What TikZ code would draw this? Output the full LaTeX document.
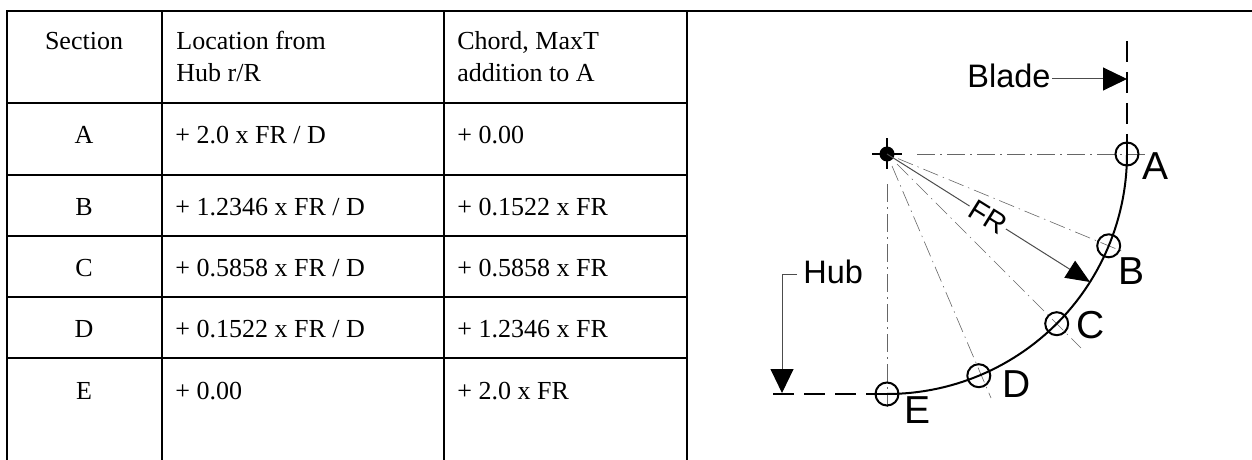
\documentclass[tikz,border=0pt]{standalone}
\usepackage{fontspec}
\setmainfont{Liberation Serif}
\newfontfamily\hlv{Liberation Sans}
\usetikzlibrary{arrows.meta}
\tikzset{
  x=0.5pt,y=-0.5pt,
  rule/.style={line width=1.15pt,line cap=rect},
  cell/.style={anchor=base west,inner sep=0pt,font=\fontsize{13}{16}\selectfont},
  cellc/.style={anchor=base,inner sep=0pt,font=\fontsize{13}{16}\selectfont},
  lab/.style={anchor=base west,inner sep=0pt,font=\hlv\fontsize{16.25}{18}\selectfont},
  biglab/.style={anchor=base west,inner sep=0pt,font=\hlv\fontsize{19.5}{22}\selectfont},
  thick line/.style={line width=1pt,black},
  dashline/.style={line width=1pt,black,dash pattern=on 10.5pt off 5pt},
  centre/.style={line width=0.4pt,black!60,dash pattern=on 9pt off 2.5pt on 1pt off 2.5pt},
  radial/.style={line width=0.3pt,black!60,dash pattern=on 8pt off 2.5pt on .7pt off 2.5pt},
  leader/.style={line width=0.5pt,black!70},
  bigtip/.style={-{Triangle[length=12pt,width=11.5pt,black]}},
  ring/.style={circle,draw=black,line width=1pt,minimum size=11.5pt,inner sep=0pt,fill=none},
}
\begin{document}
\begin{tikzpicture}
\useasboundingbox (0,0) rectangle (1252,460);
% table
\draw[rule] (7,11) -- (1252,11);
\foreach \y in {103,175,236,297,358} \draw[rule] (7,\y) -- (687,\y);
\foreach \x in {7,162,444,687} \draw[rule] (\x,11) -- (\x,460);
\node[cellc] (h1) at (84,50) {Section};
\node[cell] (h2a) at (176,50) {Location from};
\node[cell] (h2b) at (176,82) {Hub r/R};
\node[cell] (h3a) at (457,50) {Chord, MaxT};
\node[cell] (h3b) at (457,82) {addition to A};
\node[cellc] (a1) at (84,143) {A};
\node[cell] (a2) at (175,143) {+ 2.0 x FR / D};
\node[cell] (a3) at (457,143) {+ 0.00};
\node[cellc] (b1) at (84,215) {B};
\node[cell] (b2) at (175,215) {+ 1.2346 x FR / D};
\node[cell] (b3) at (457,215) {+ 0.1522 x FR};
\node[cellc] (c1) at (84,276) {C};
\node[cell] (c2) at (175,276) {+ 0.5858 x FR / D};
\node[cell] (c3) at (457,276) {+ 0.5858 x FR};
\node[cellc] (d1) at (84,337) {D};
\node[cell] (d2) at (175,337) {+ 0.1522 x FR / D};
\node[cell] (d3) at (457,337) {+ 1.2346 x FR};
\node[cellc] (e1) at (84,399) {E};
\node[cell] (e2) at (175,399) {+ 0.00};
\node[cell] (e3) at (457,399) {+ 2.0 x FR};
% geometry points
\coordinate (P) at (887,154);
\coordinate (PA) at (1127,154);
\coordinate (PB) at (1108.7,245.8);
\coordinate (PC) at (1056.7,323.7);
\coordinate (PD) at (978.8,375.7);
\coordinate (PE) at (887,394);
% centre lines
\draw[centre] (917,154) -- (1150,154);
\draw[centre] (887,184) -- (887,407);
\draw[radial] (898,158.6) -- (1125.4,252.7);
\draw[radial] (897,164) -- (1081,348);
\draw[radial] (892,166) -- (991,398);
% blade curve
\draw[thick line] plot[domain=0:90,samples=60] ({887+240*cos(\x)},{154+240*sin(\x)});
% dashed references
\coordinate (bladetop) at (1127,41);
\coordinate (hubend) at (773,394);
\draw[dashline] (bladetop) -- (PA);
\draw[dashline] (hubend) -- (PE);
% rings
\foreach \n in {A,B,C,D,E} \node[ring] (ring\n) at (P\n) {};
% centre mark
\node[circle,fill=black,minimum size=7.5pt,inner sep=0pt] (hubmark) at (P) {};
\draw[line width=1pt] (872,154) -- (902,154);
\draw[line width=1pt] (887,138) -- (887,169);
% labels
\node[lab] (blade) at (967,88) {Blade};
\node[lab] (hub) at (803,283) {Hub};
\node[biglab] (lA) at (1142,179) {A};
\node[biglab] (lB) at (1118,284) {B};
\node[biglab] (lC) at (1076,338) {C};
\node[biglab] (lD) at (1002,397) {D};
\node[biglab] (lE) at (904,423) {E};
% arrows
\coordinate (bladetip) at (1127,79);
\coordinate (hubtip) at (782,393);
\coordinate (hubcorner) at (782,274);
\coordinate (frtip) at (1090,282);
\draw[leader,bigtip] (1052,79) -- (bladetip);
\draw[leader,bigtip] (797,274) -- (hubcorner) -- (hubtip);
\draw[leader,-{Triangle[length=12pt,width=10pt,black]}] (P) -- (frtip);
\node[lab,anchor=center,fill=white,inner xsep=1pt,inner ysep=0pt,rotate=-32,font=\hlv\fontsize{14.5}{16}\selectfont] (fr) at (988,217) {FR};
\end{tikzpicture}
\end{document}
